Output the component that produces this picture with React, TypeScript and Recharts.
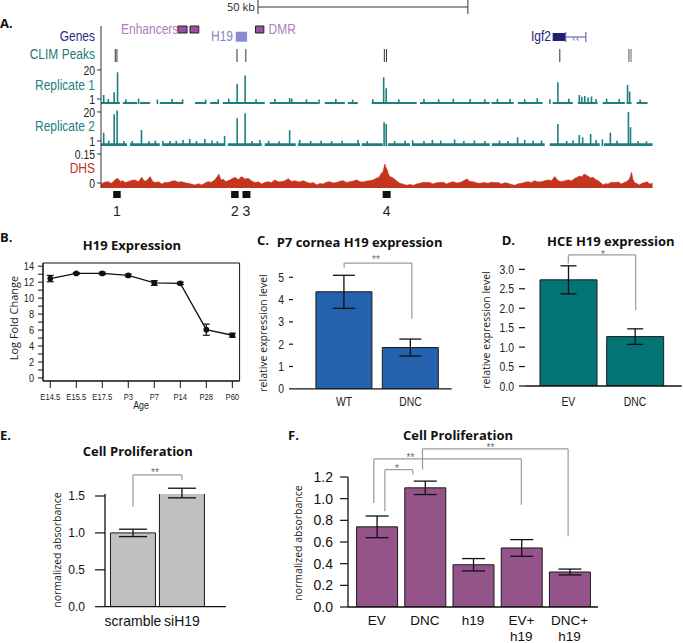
import React from 'react';
import {
  ComposedChart, Bar, Line, Area, XAxis, YAxis,
  ReferenceLine, ReferenceArea, ReferenceDot, ErrorBar,
} from 'recharts';

const BASE = '"Liberation Sans", Arial, sans-serif';
const SANS = '"Open Sans", "Noto Sans", sans-serif';
const SQUEEZE = 0.8; // no condensed face installed, squeeze Liberation Sans instead

// ---------- A. H19 / Igf2 locus (x in kb from the left edge of the window)
const LOCUS_KB = 131.5;
const scaleBar = [37.4, 87.4];
const climPeaks = [3.4, 3.8, 32.4, 34.5, 67.5, 68.0, 109.3];
const climPeaksWeak = [125.7, 126.0, 126.3];
const enhancerStarts = [18.3, 21.2];
const enhancerEnds = [20.5, 23.3];
const dmrSpan = [36.8, 38.8];
const h19Span = [32.1, 34.8];
const igf2Exon = [107.6, 110.7];
const igf2Intron = [110.7, 115.5];
const regionIds = ['1', '2', '3', '4'];
const regionStarts = [2.9, 31.0, 33.7, 67.1];
const regionEnds = [4.7, 32.8, 35.6, 69.0];

// CLIM signal, [kb, signal]
const rep1Peaks = [
  [0.7, 3.6], [1.8, 1.0], [3.2, 5.4], [4.0, 18.5], [6.0, 0.8], [9.0, 1.2], [13.5, 0.6], [17.0, 1.0],
  [19.5, 0.8], [25.0, 0.6], [28.0, 0.9], [30.5, 1.2], [32.5, 10.8], [34.4, 16.3], [37.0, 0.8], [41.5, 1.0],
  [45.0, 1.6], [45.5, 1.2], [49.0, 0.8], [52.0, 0.7], [56.0, 0.9], [60.0, 0.6], [64.8, 0.8], [67.4, 15.2],
  [68.0, 8.0], [71.0, 0.7], [77.0, 1.0], [80.5, 0.8], [84.0, 1.1], [88.0, 0.9], [91.5, 0.8], [94.5, 1.0],
  [97.5, 1.2], [101.0, 0.9], [104.0, 1.5], [107.0, 0.8], [108.9, 11.9], [111.5, 1.2], [114.0, 3.6],
  [114.6, 2.4], [115.3, 3.0], [116.1, 2.0], [116.9, 2.6], [118.0, 1.0], [120.5, 1.3], [123.5, 1.0],
  [125.5, 10.2], [126.0, 5.8], [128.5, 0.7],
];
const rep1Covered = [
  [0, 4.5], [5.2, 8.6], [9.3, 11.7], [14, 19.3], [22.4, 24.8], [26, 27.9], [29, 39], [40.2, 51.7],
  [53.3, 58.1], [58.8, 61.2], [64.5, 75.2], [76, 92.6], [93, 98.3], [99.3, 105.2], [107.6, 112.4],
  [113.6, 118.3], [119.5, 124.8], [125.2, 126.4], [127.6, 130.2],
];
const rep2Peaks = [
  [0.7, 6.4], [1.9, 1.2], [3.2, 18.5], [3.9, 21.0], [5.5, 0.9], [7.5, 1.0], [9.7, 8.2], [11.5, 0.8],
  [13.0, 1.2], [14.8, 1.0], [16.5, 0.9], [18.0, 1.1], [19.6, 1.7], [21.2, 2.3], [22.8, 1.0], [24.8, 2.3],
  [26.5, 1.3], [27.8, 0.9], [29.5, 4.3], [32.5, 15.9], [34.4, 19.2], [36.0, 1.0], [37.9, 1.7], [40.0, 1.1],
  [42.5, 0.8], [45.0, 8.0], [47.4, 1.7], [50.0, 1.0], [52.5, 1.2], [55.0, 0.9], [57.5, 1.1], [61.3, 1.7],
  [63.5, 0.9], [67.5, 13.3], [68.0, 12.1], [70.0, 1.0], [72.5, 1.2], [74.3, 1.5], [77.0, 1.0], [79.0, 1.7],
  [81.0, 1.2], [84.3, 2.0], [86.5, 1.0], [89.0, 1.3], [91.5, 0.9], [95.0, 1.2], [97.0, 1.0], [99.3, 3.4],
  [101.0, 1.7], [103.0, 1.1], [105.0, 1.3], [108.9, 12.1], [111.0, 1.0], [112.5, 1.4], [114.0, 4.9],
  [114.8, 3.4], [116.7, 5.6], [118.0, 1.6], [119.5, 2.0], [121.4, 6.4], [123.0, 1.2], [125.7, 20.0],
  [126.2, 10.0], [128.0, 1.0], [130.0, 0.8],
];
const rep2Covered = [
  [0, 6.2], [6.9, 14], [14.8, 29.5], [30.2, 38.3], [39, 46.4], [46.9, 61.7], [62.1, 67.1], [68.3, 73.6],
  [74.3, 92.6], [93.1, 105.7], [106.9, 118.8], [119.8, 131.4],
];
// DNase hypersensitivity, [kb, signal]
const dhsSignal = [
  [0.0, -0.005], [0.8, 0.004], [1.7, 0.007], [2.5, -0.001], [3.3, 0.016], [4.0, 0.024], [4.6, 0.008],
  [5.2, 0.012], [5.8, 0.002], [6.4, 0.007], [7.2, 0.013], [8.1, 0.016], [8.9, 0.006], [9.7, 0.030],
  [10.3, 0.010], [10.9, 0.012], [11.7, 0.033], [12.3, 0.008], [12.9, 0.002], [13.7, 0.006], [14.5, -0.005],
  [15.2, 0.003], [16.0, 0.002], [16.8, 0.009], [17.6, 0.012], [18.4, 0.004], [19.2, 0.007], [20.0, 0.001],
  [20.8, -0.002], [21.6, -0.006], [22.4, -0.010], [23.2, -0.004], [24.0, -0.010], [24.8, 0.000], [25.5, 0.007],
  [26.3, 0.004], [27.1, 0.016], [28.1, 0.045], [28.6, 0.015], [29.1, 0.019], [29.7, 0.008], [30.3, 0.012],
  [31.1, 0.020], [31.9, 0.030], [32.7, 0.018], [33.5, 0.033], [34.3, 0.020], [35.1, 0.024], [35.9, 0.010],
  [36.7, 0.002], [37.5, 0.006], [38.3, -0.005], [39.0, 0.003], [39.8, 0.007], [40.6, 0.002], [41.4, 0.016],
  [42.2, 0.006], [43.0, 0.007], [43.8, 0.012], [44.6, 0.022], [45.4, 0.008], [46.2, 0.012], [47.2, 0.005],
  [48.2, 0.012], [49.0, 0.004], [49.8, -0.002], [50.6, 0.002], [51.4, -0.010], [52.1, -0.003], [52.9, -0.005],
  [53.7, 0.004], [54.5, 0.007], [55.3, 0.000], [56.1, 0.002], [56.9, 0.009], [57.7, 0.012], [58.5, 0.003],
  [59.3, 0.007], [60.1, 0.010], [60.9, 0.016], [61.7, 0.006], [62.5, 0.005], [63.2, 0.010], [64.0, 0.012],
  [64.8, 0.016], [65.6, 0.024], [66.2, 0.030], [66.8, 0.050], [67.2, 0.060], [67.6, 0.098], [67.9, 0.080],
  [68.2, 0.067], [68.5, 0.045], [68.8, 0.033], [69.4, 0.028], [70.0, 0.019], [70.6, 0.008], [71.2, -0.002],
  [72.0, -0.006], [72.8, -0.012], [73.6, -0.008], [74.4, -0.012], [75.2, -0.005], [76.0, -0.002], [76.8, 0.004],
  [77.5, 0.002], [78.3, 0.003], [79.1, -0.005], [79.9, 0.001], [80.7, 0.002], [81.5, 0.004], [82.3, -0.005],
  [83.1, 0.002], [83.9, 0.007], [84.7, 0.000], [85.5, 0.002], [86.3, 0.010], [87.1, 0.021], [87.9, 0.008],
  [88.6, 0.007], [89.4, 0.001], [90.2, -0.002], [91.2, 0.002], [92.2, -0.002], [93.0, 0.004], [93.8, 0.002],
  [94.6, 0.003], [95.4, -0.005], [96.2, 0.001], [97.0, -0.002], [97.8, -0.008], [98.6, -0.012], [99.4, -0.004],
  [100.2, -0.002], [101.0, 0.004], [101.7, 0.007], [102.5, 0.002], [103.3, 0.012], [104.1, 0.005], [104.9, 0.007],
  [105.7, 0.011], [106.5, 0.016], [107.3, 0.012], [108.1, 0.033], [108.9, 0.012], [109.7, 0.007], [110.5, 0.012],
  [111.3, 0.016], [112.1, 0.012], [112.9, 0.024], [113.5, 0.030], [114.0, 0.036], [114.6, 0.032], [115.1, 0.047],
  [115.6, 0.040], [116.0, 0.036], [116.6, 0.026], [117.2, 0.030], [117.8, 0.018], [118.4, 0.012], [119.0, 0.002],
  [119.6, -0.010], [120.2, -0.004], [120.8, -0.005], [121.6, 0.004], [122.4, 0.002], [123.2, 0.005], [124.0, -0.005],
  [124.6, 0.002], [125.2, 0.007], [125.9, 0.020], [126.4, 0.055], [126.7, 0.020], [127.1, 0.002], [127.7, -0.004],
  [128.3, -0.010], [128.9, -0.002], [129.5, 0.002], [130.1, 0.006], [130.7, -0.005], [131.4, -0.002],
];

// ---------- B. H19 expression over development
const ages = ['E14.5', 'E15.5', 'E17.5', 'P3', 'P7', 'P14', 'P28', 'P60'];
const h19Log = [12.45, 13.1, 13.1, 12.85, 11.9, 11.85, 6.05, 5.35];
const h19LogErr = [0.4, 0.1, 0.15, 0.15, 0.3, 0.15, 0.7, 0.25];

// ---------- C. P7 cornea
const corneaGroups = ['WT', 'DNC'];
const corneaExpr = [4.35, 1.85];
const corneaErr = [0.74, 0.38];

// ---------- D. HCE cells
const hceGroups = ['EV', 'DNC'];
const hceExpr = [2.73, 1.27];
const hceErr = [0.36, 0.2];

// ---------- E. siRNA proliferation
const siGroups = ['scramble', 'siH19'];
const siAbs = [1.0, 1.54];
const siAbsErr = [0.05, 0.065];

// ---------- F. rescue proliferation
const rescueGroups = ['EV', 'DNC', 'h19', 'EV+\nh19', 'DNC+\nh19'];
const rescueAbs = [0.74, 1.1, 0.39, 0.545, 0.323];
const rescueAbsErr = [0.1, 0.062, 0.057, 0.077, 0.027];

// significance brackets (x in bar index, y in data units)
const corneaSig = [{ from: 0, to: 1.02, top: 5.64, fromEnd: 5.43, toEnd: 3.14, mark: '**', markX: 0.48, markY: 5.8 }];
const hceSig = [{ from: 0, to: 1.01, top: 3.37, fromEnd: 3.15, toEnd: 1.95, mark: '*', markX: 0.52, markY: 3.39 }];
const siSig = [{ from: 0, to: 1, top: 1.785, fromEnd: 1.355, toEnd: 1.717, mark: '**', markX: 0.45, markY: 1.82 }];
const rescueSig = [
  { from: 0.17, to: 0.75, top: 1.268, fromEnd: 0.883, toEnd: 1.222, mark: '*', markX: 0.42, markY: 1.277 },
  { from: -0.06, to: 3.0, top: 1.367, fromEnd: 0.96, toEnd: 0.945, mark: '**', markX: 0.7, markY: 1.378 },
  { from: 0.95, to: 3.97, top: 1.459, fromEnd: 1.268, toEnd: 0.652, mark: '**', markX: 2.36, markY: 1.472 },
];

const TEAL = '#1f7f7f';
const DHS_RED = '#c4341e';
const TRACK_X = 101;
const TRACK_W = 552;
const TICK_W = 40;
const R_MIN = -2.3;
const DHS_MIN = -0.026;

const spike = (d: any) => [R_MIN, d.v];
const asRows = (rows: number[][]) => rows.map(([kb, v]) => ({ kb, v }));

// squeezed text, stands in for the condensed face of the original
function NText({ x, y, anchor = 'start', size, fill = '#222', dy = '0.35em', children }: any) {
  return (
    <g transform={`translate(${x},${y}) scale(${SQUEEZE},1)`}>
      <text textAnchor={anchor} dy={dy} fontSize={size} fontFamily={BASE} fill={fill}>{children}</text>
    </g>
  );
}

const narrowTick = (size: number, fmt: (v: any) => string, below: boolean) =>
  function Tick({ x, y, payload, textAnchor }: any) {
    return <NText x={x} y={y} anchor={textAnchor} size={size} dy={below ? '0.71em' : '0.35em'}>{fmt(payload.value)}</NText>;
  };

const trackTick = narrowTick(13, (v) => String(v), false);
const agesTick = narrowTick(9.5, (i) => ages[i], true);
const foldTick = narrowTick(11.5, (v) => (v % 2 === 0 ? String(v) : ''), false);
const intTick = narrowTick(13, (v) => String(v), false);
const decTick = narrowTick(13, (v) => v.toFixed(1), false);
const corneaTick = narrowTick(13, (i) => corneaGroups[i], true);
const hceTick = narrowTick(13, (i) => hceGroups[i], true);

function Strip({ top, height, data = [], yDomain = [0, 1], yTicks, marginBottom = 0, children }: any) {
  const withAxis = !!yTicks;
  return (
    <div style={{ position: 'absolute', left: withAxis ? TRACK_X - TICK_W : TRACK_X, top }}>
      <ComposedChart
        width={TRACK_W + (withAxis ? TICK_W : 0)}
        height={height + marginBottom}
        data={data}
        margin={{ top: 0, right: 0, bottom: marginBottom, left: 0 }}
      >
        <XAxis type="number" dataKey="kb" domain={[0, LOCUS_KB]} allowDataOverflow hide />
        {withAxis ? (
          <YAxis
            domain={yDomain}
            allowDataOverflow
            ticks={yTicks}
            interval={0}
            width={TICK_W}
            tickSize={4}
            tickMargin={2}
            axisLine={{ stroke: '#333' }}
            tickLine={{ stroke: '#333' }}
            tick={trackTick}
          />
        ) : (
          <YAxis hide domain={yDomain} allowDataOverflow />
        )}
        {children}
      </ComposedChart>
    </div>
  );
}

function bracket(b: any, k: number) {
  const line = { stroke: '#9a9a9a', strokeWidth: 1.2, ifOverflow: 'visible' as const };
  return [
    <ReferenceLine key={`a${k}`} {...line} segment={[{ x: b.from, y: b.fromEnd }, { x: b.from, y: b.top }]} />,
    <ReferenceLine key={`b${k}`} {...line} segment={[{ x: b.from, y: b.top }, { x: b.to, y: b.top }]} />,
    <ReferenceLine key={`c${k}`} {...line} segment={[{ x: b.to, y: b.top }, { x: b.to, y: b.toEnd }]} />,
    <ReferenceDot
      key={`d${k}`}
      x={b.markX}
      y={b.markY}
      r={0}
      fill="none"
      stroke="none"
      ifOverflow="visible"
      label={{ value: b.mark, position: 'center', fill: '#6a6a6a', fontSize: 10, fontFamily: BASE }}
    />,
  ];
}

function SigBars(p: any) {
  const data = p.groups.map((g: string, i: number) => ({ i, v: p.values[i], e: p.errors[i] }));
  return (
    <div style={{ position: 'absolute', left: p.plotLeft - p.yAxisW, top: p.plotTop - p.marginTop }}>
      <ComposedChart
        width={p.yAxisW + p.plotW}
        height={p.marginTop + p.plotH + p.xAxisH}
        data={data}
        margin={{ top: p.marginTop, right: 0, bottom: 0, left: 0 }}
      >
        <XAxis
          type="number"
          dataKey="i"
          domain={p.xDomain}
          allowDataOverflow
          ticks={p.groups.map((_: string, i: number) => i)}
          interval={0}
          tickFormatter={(i: number) => p.groups[i]}
          height={p.xAxisH}
          tickLine={false}
          tickSize={4}
          tickMargin={p.xTickMargin}
          axisLine={{ stroke: '#111', strokeWidth: 1.3 }}
          tick={p.xTick}
        />
        <YAxis
          domain={p.yDomain}
          allowDataOverflow
          ticks={p.yTicks}
          interval={0}
          tickFormatter={p.yFormat}
          width={p.yAxisW}
          tickSize={p.yTickSize}
          tickMargin={p.yTickMargin}
          axisLine={p.yLine ? { stroke: '#111', strokeWidth: 1.3 } : false}
          tickLine={{ stroke: '#111', strokeWidth: 1.2 }}
          tick={p.yTick}
        />
        <Bar dataKey="v" barSize={p.barSize} fill={p.fill} stroke="#1a1a1a" strokeWidth={1} isAnimationActive={false}>
          <ErrorBar dataKey="e" width={p.errW} stroke="#111" strokeWidth={1.3} direction="y" />
        </Bar>
        {p.brackets.flatMap((b: any, k: number) => bracket(b, k))}
      </ComposedChart>
    </div>
  );
}

function RescueTick({ x, y, payload }: any) {
  const lines = rescueGroups[payload.value].split('\n');
  return (
    <text x={x} y={y} textAnchor="middle" fontSize={13.5} fontFamily={BASE} fill="#111">
      {lines.map((l, k) => (
        <tspan key={k} x={x} dy={k === 0 ? '0.71em' : '1.2em'}>{l}</tspan>
      ))}
    </text>
  );
}

function Overlay() {
  const bold = { fontFamily: SANS, fontWeight: 700, fontSize: 13, fill: '#111', dominantBaseline: 'central' as const };
  const axisTitle = { fontFamily: SANS, fontSize: 10.5, fill: '#222', textAnchor: 'middle' as const, dominantBaseline: 'central' as const };
  return (
    <svg width={683} height={643} style={{ position: 'absolute', left: 0, top: 0, pointerEvents: 'none' }}>
      <text x={0} y={23} {...bold}>A.</text>
      <NText x={95} y={36} size={15} anchor="end" fill="#2b2b7d">Genes</NText>
      <NText x={95} y={54} size={15} anchor="end" fill="#1f7a7a">CLIM Peaks</NText>
      <NText x={95} y={85} size={15} anchor="end" fill="#1f8080">Replicate 1</NText>
      <NText x={95} y={126} size={15} anchor="end" fill="#1f8080">Replicate 2</NText>
      <NText x={95} y={168} size={15} anchor="end" fill="#c0301c">DHS</NText>
      <NText x={121} y={29} size={15} fill="#b07cc0">Enhancers</NText>
      <NText x={233} y={36} size={15} anchor="end" fill="#8484c4">H19</NText>
      <NText x={268.5} y={29} size={15} fill="#b07cc0">DMR</NText>
      <NText x={551} y={36} size={15} anchor="end" fill="#22226e">Igf2</NText>

      <text x={0} y={237} {...bold}>B.</text>
      <text x={132} y={245} {...bold} textAnchor="middle">H19 Expression</text>
      <text transform="translate(13,318) rotate(-90)" {...axisTitle} fontSize={11}>Log Fold Change</text>
      <NText x={141} y={405} size={11} anchor="middle">Age</NText>

      <text x={257} y={240} {...bold}>C.</text>
      <text x={276.7} y={242.3} {...bold}>P7 cornea H19 expression</text>
      <text transform="translate(263,333) rotate(-90)" {...axisTitle}>relative expression level</text>

      <text x={501.7} y={240} {...bold}>D.</text>
      <text x={547} y={241} {...bold}>HCE H19 expression</text>
      <text transform="translate(486,330) rotate(-90)" {...axisTitle}>relative expression level</text>

      <text x={0} y={435} {...bold}>E.</text>
      <text x={137.7} y={451} {...bold} textAnchor="middle">Cell Proliferation</text>
      <text transform="translate(57,550) rotate(-90)" {...axisTitle}>normalized absorbance</text>

      <text x={288} y={435} {...bold}>F.</text>
      <text x={458} y={435} {...bold} textAnchor="middle">Cell Proliferation</text>
      <text transform="translate(298.3,543) rotate(-90)" {...axisTitle}>normalized absorbance</text>
    </svg>
  );
}

export default function App() {
  const bData = ages.map((age, i) => ({ i, age, v: h19Log[i], e: h19LogErr[i] }));
  const B_X = [-0.28, 7.28];
  const B_Y = [-0.38, 14.4];

  return (
    <div style={{ position: 'absolute', left: 0, top: 0, width: 683, height: 643, background: '#fff', overflow: 'hidden' }}>
      {/* A. locus browser */}
      <Strip top={0} height={14} data={scaleBar.map((kb) => ({ kb }))}>
        <ReferenceLine segment={[{ x: scaleBar[0], y: 0.5 }, { x: scaleBar[1], y: 0.5 }]} stroke="#333" strokeWidth={1} />
        <ReferenceLine x={scaleBar[0]} stroke="#333" strokeWidth={1} />
        <ReferenceLine x={scaleBar[1]} stroke="#333" strokeWidth={1} />
        <ReferenceDot x={scaleBar[0]} y={0.5} r={0} fill="none" stroke="none"
          label={{ value: '50 kb', position: 'left', offset: 3, fontSize: 11, fontFamily: SANS, fill: '#222' }} />
      </Strip>

      <Strip top={24} height={20} yDomain={[0, 20]} data={[{ kb: h19Span[0] }, { kb: igf2Exon[0] }]}>
        {enhancerStarts.map((s, k) => (
          <ReferenceArea key={k} x1={s} x2={enhancerEnds[k]} y1={11} y2={18} fill="#9b4f9f" fillOpacity={1} stroke="#222" strokeWidth={1} />
        ))}
        <ReferenceArea x1={dmrSpan[0]} x2={dmrSpan[1]} y1={11} y2={18} fill="#9b4f9f" fillOpacity={1} stroke="#222" strokeWidth={1} />
        <ReferenceArea x1={h19Span[0]} x2={h19Span[1]} y1={2.3} y2={12.3} fill="#8a8ad2" fillOpacity={1} stroke="none" />
        <ReferenceArea x1={igf2Exon[0]} x2={igf2Exon[1]} y1={3} y2={11} fill="#20206e" fillOpacity={1} stroke="none" />
        <ReferenceLine segment={[{ x: igf2Intron[0], y: 7 }, { x: igf2Intron[1], y: 7 }]} stroke="#6a6ab8" strokeWidth={1.2} />
        <ReferenceLine segment={[{ x: igf2Intron[0], y: 2 }, { x: igf2Intron[0], y: 12 }]} stroke="#6a6ab8" strokeWidth={1.2} />
        <ReferenceLine segment={[{ x: igf2Intron[1], y: 2 }, { x: igf2Intron[1], y: 12 }]} stroke="#6a6ab8" strokeWidth={1.2} />
        <ReferenceDot x={(igf2Intron[0] + igf2Intron[1]) / 2} y={7} r={0} fill="none" stroke="none"
          label={{ value: '‹‹', position: 'center', fontSize: 11, fill: '#6a6ab8' }} />
      </Strip>

      <Strip top={49} height={13} data={climPeaks.map((kb) => ({ kb }))}>
        {climPeaks.map((kb) => <ReferenceLine key={kb} x={kb} stroke="#333" strokeWidth={1} />)}
        {climPeaksWeak.map((kb) => <ReferenceLine key={kb} x={kb} stroke="#8a8a8a" strokeWidth={1} />)}
      </Strip>

      <Strip top={26} height={78} marginBottom={7} data={asRows(rep1Peaks)} yDomain={[R_MIN, 48.81]} yTicks={[1, 20]}>
        {rep1Covered.map(([a, b], k) => (
          <ReferenceArea key={k} x1={a} x2={b} y1={R_MIN} y2={-1} fill={TEAL} fillOpacity={1} stroke="none" />
        ))}
        <Bar dataKey={spike} fill={TEAL} barSize={1.6} isAnimationActive={false} />
      </Strip>

      <Strip top={104} height={42} marginBottom={7} data={asRows(rep2Peaks)} yDomain={[R_MIN, 25.22]} yTicks={[1, 20]}>
        {rep2Covered.map(([a, b], k) => (
          <ReferenceArea key={k} x1={a} x2={b} y1={R_MIN} y2={-0.5} fill={TEAL} fillOpacity={1} stroke="none" />
        ))}
        <Bar dataKey={spike} fill={TEAL} barSize={1.6} isAnimationActive={false} />
      </Strip>

      <Strip top={146} height={42} marginBottom={3} data={asRows(dhsSignal)} yDomain={[DHS_MIN, 0.1916]} yTicks={[0, 0.15]}>
        <Area dataKey="v" type="linear" baseValue={DHS_MIN} stroke={DHS_RED} strokeWidth={0.6} fill={DHS_RED} fillOpacity={1} isAnimationActive={false} />
      </Strip>

      <Strip top={191} height={7} marginBottom={24} data={regionStarts.map((kb) => ({ kb }))}>
        {regionIds.map((id, k) => (
          <ReferenceArea key={id} x1={regionStarts[k]} x2={regionEnds[k]} fill="#111" fillOpacity={1} stroke="none"
            label={{ value: id, position: 'bottom', offset: 8, fontSize: 14, fontFamily: BASE, fill: '#222' }} />
        ))}
      </Strip>

      {/* B. expression over age */}
      <div style={{ position: 'absolute', left: 12.7, top: 260.7 }}>
        <ComposedChart width={228.6} height={150} data={bData} margin={{ top: 2, right: 2, bottom: 0, left: 0 }}>
          <XAxis type="number" dataKey="i" domain={B_X} allowDataOverflow ticks={ages.map((_, i) => i)} interval={0}
            height={30} tickSize={7} tickMargin={5}
            axisLine={{ stroke: '#111' }} tickLine={{ stroke: '#111' }} tick={agesTick} />
          <YAxis domain={B_Y} allowDataOverflow ticks={[0, 1, 2, 3, 4, 5, 6, 7, 8, 9, 10, 11, 12, 13, 14]} interval={0}
            width={30} tickSize={5} tickMargin={4}
            axisLine={{ stroke: '#111' }} tickLine={{ stroke: '#111' }} tick={foldTick} />
          <ReferenceArea x1={B_X[0]} x2={B_X[1]} y1={B_Y[0]} y2={B_Y[1]} fill="none" stroke="#111" strokeWidth={1} />
          <Line dataKey="v" stroke="#111" strokeWidth={1.3} dot={{ r: 2.2, fill: '#111', stroke: '#111' }} isAnimationActive={false}>
            <ErrorBar dataKey="e" width={3.5} stroke="#111" strokeWidth={1.2} direction="y" />
          </Line>
        </ComposedChart>
      </div>

      {/* C */}
      <SigBars groups={corneaGroups} values={corneaExpr} errors={corneaErr} brackets={corneaSig}
        plotLeft={293} plotTop={255.2} plotW={158.7} plotH={133.8} marginTop={0} yAxisW={30} xAxisH={26}
        xDomain={[-0.77, 1.62]} yDomain={[0, 6]} yTicks={[0, 1, 2, 3, 4, 5]}
        yLine={false} yTickSize={4} yTickMargin={5} yTick={intTick}
        xTick={corneaTick} xTickMargin={4} barSize={56} fill="#2462ae" errW={11} />

      {/* D */}
      <SigBars groups={hceGroups} values={hceExpr} errors={hceErr} brackets={hceSig}
        plotLeft={525} plotTop={246} plotW={156.7} plotH={140} marginTop={0} yAxisW={30} xAxisH={26}
        xDomain={[-0.65, 1.7]} yDomain={[0, 3.6]} yTicks={[0, 0.5, 1, 1.5, 2, 2.5, 3]}
        yLine={false} yTickSize={6} yTickMargin={5} yTick={decTick}
        xTick={hceTick} xTickMargin={7} barSize={57} fill="#037475" errW={8} />

      {/* E */}
      <SigBars groups={siGroups} values={siAbs} errors={siAbsErr} brackets={siSig}
        plotLeft={105} plotTop={494} plotW={121} plotH={112.7} marginTop={30} yAxisW={45} xAxisH={36}
        xDomain={[-0.571, 1.9]} yDomain={[0, 1.527]} yTicks={[0, 0.5, 1, 1.5]} yFormat={(v: number) => v.toFixed(1)}
        yLine yTickSize={10} yTickMargin={10} yTick={{ fontSize: 12, fontFamily: BASE, fill: '#111' }}
        xTick={{ fontSize: 14, fontFamily: BASE, fill: '#111' }} xTickMargin={5} barSize={45} fill="#c0c0c0" errW={14} />

      {/* F */}
      <SigBars groups={rescueGroups} values={rescueAbs} errors={rescueAbsErr} brackets={rescueSig}
        plotLeft={348.3} plotTop={477.3} plotW={250} plotH={130} marginTop={36} yAxisW={45} xAxisH={36}
        xDomain={[-0.595, 4.59]} yDomain={[0, 1.2]} yTicks={[0, 0.2, 0.4, 0.6, 0.8, 1, 1.2]} yFormat={(v: number) => v.toFixed(1)}
        yLine yTickSize={8} yTickMargin={7} yTick={{ fontSize: 14, fontFamily: BASE, fill: '#111' }}
        xTick={RescueTick} xTickMargin={4} barSize={41} fill="#94548a" errW={11.5} />

      <Overlay />
    </div>
  );
}
